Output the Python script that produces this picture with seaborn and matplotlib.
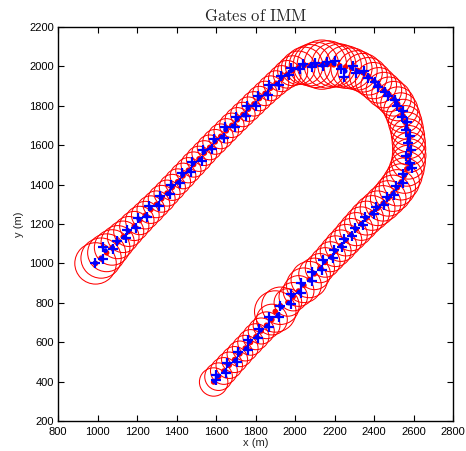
import matplotlib
matplotlib.use("Agg")
import matplotlib.pyplot as plt
from matplotlib.patches import Circle
import seaborn as sns

# predicted positions (gate centres) and gate radii (m)
pred_x = [990, 1018, 1046, 1074, 1102, 1130, 1158, 1186, 1214, 1242, 1270, 1298, 1325,
          1352, 1379, 1406, 1433, 1460, 1487, 1514, 1541, 1568, 1596, 1624, 1652, 1680,
          1708, 1736, 1764, 1792, 1820, 1848, 1876, 1904, 1932, 1960, 1988, 2016, 2046,
          2076, 2106, 2136, 2166, 2196, 2226,
          2256, 2286, 2316, 2344, 2372, 2398, 2424, 2450, 2476, 2500, 2520, 2536, 2548,
          2558, 2566, 2572, 2576, 2578, 2578, 2574, 2566, 2554, 2538, 2518, 2496, 2472,
          2446, 2418, 2390, 2362, 2336, 2310, 2284, 2258, 2232, 2206,
          2180, 2153, 2126, 2099, 2072, 2045, 2018, 1991, 1964, 1926, 1900, 1883, 1856,
          1829, 1802, 1775, 1748, 1721, 1694, 1667, 1640, 1613, 1588]
pred_y = [1000, 1027, 1054, 1081, 1108, 1135, 1162, 1190, 1218, 1245, 1273, 1300, 1328,
          1357, 1386, 1415, 1444, 1473, 1502, 1531, 1560, 1589, 1617, 1645, 1673, 1701,
          1729, 1756, 1783, 1810, 1837, 1863, 1889, 1914, 1938, 1960, 1978, 1993, 2003,
          2006, 2008, 2009, 2010, 2008, 2004,
          1997, 1990, 1980, 1968, 1950, 1928, 1904, 1880, 1858, 1836, 1810, 1780, 1748,
          1716, 1684, 1650, 1616, 1582, 1548, 1514, 1480, 1446, 1414, 1384, 1356, 1330,
          1305, 1280, 1256, 1230, 1202, 1174, 1146, 1118, 1090, 1062,
          1034, 1005, 976, 947, 918, 889, 860, 831, 802, 785, 756, 715, 686,
          657, 628, 599, 570, 541, 512, 483, 454, 425, 398]
gate_r = [105, 102, 96, 90, 84, 80, 76, 74, 72, 70, 70, 68, 68,
          66, 66, 65, 65, 64, 64, 64, 63, 63, 63, 63, 62, 62,
          62, 62, 62, 62, 62, 62, 63, 64, 66, 70, 76, 85, 95,
          105, 115, 125, 120, 112, 110,
          108, 104, 100, 98, 95, 92, 90, 90, 88, 88, 86, 86, 85,
          85, 84, 84, 84, 84, 85, 86, 88, 90, 92, 92, 92, 90,
          90, 88, 88, 86, 85, 84, 82, 80, 80, 78,
          76, 75, 74, 80, 92, 88, 78, 72, 70, 95, 105, 78, 68,
          66, 66, 65, 65, 65, 66, 67, 68, 70, 72]

# measurements
meas_x = [985, 1026, 1030, 1080, 1098, 1142, 1150, 1195, 1205, 1252, 1262, 1310, 1318,
          1365, 1372, 1418, 1428, 1472, 1480, 1528, 1535, 1582, 1590, 1640, 1645, 1695,
          1702, 1750, 1758, 1805, 1814, 1862, 1870, 1918, 1928, 1972, 1982, 2025, 2040,
          2085, 2100, 2142, 2160, 2200, 2232,
          2250, 2292, 2310, 2350, 2368, 2405, 2418, 2458, 2470, 2508, 2515, 2545, 2540,
          2566, 2560, 2580, 2570, 2585, 2560, 2582, 2590, 2548, 2545, 2512, 2502, 2465,
          2452, 2412, 2398, 2355, 2342, 2302, 2290, 2250, 2238, 2198,
          2192, 2140, 2135, 2088, 2085, 2030, 2028, 1980, 1978, 1925, 1920, 1870, 1866,
          1818, 1815, 1762, 1760, 1710, 1705, 1655, 1652, 1602, 1598]
meas_y = [1004, 1022, 1082, 1075, 1115, 1128, 1170, 1178, 1230, 1236, 1290, 1292, 1340,
          1350, 1398, 1406, 1458, 1466, 1515, 1522, 1575, 1580, 1632, 1636, 1690, 1692,
          1744, 1748, 1798, 1800, 1852, 1856, 1904, 1905, 1952, 1955, 1990, 1985, 2012,
          1998, 2016, 2002, 2022, 2025, 1985,
          1945, 2002, 1968, 1975, 1940, 1920, 1898, 1872, 1850, 1830, 1800, 1772, 1742,
          1720, 1678, 1645, 1610, 1576, 1545, 1508, 1484, 1452, 1408, 1392, 1348, 1336,
          1298, 1288, 1250, 1238, 1196, 1180, 1140, 1124, 1084, 1070,
          1025, 1018, 965, 958, 910, 902, 848, 845, 795, 785, 730, 726, 676,
          668, 620, 612, 562, 552, 500, 494, 446, 436, 408]

# filtered estimates
est_x = [988, 1021, 1040, 1076, 1100, 1135, 1155, 1190, 1210, 1246, 1267, 1303, 1322,
         1357, 1376, 1411, 1431, 1465, 1484, 1520, 1539, 1574, 1594, 1630, 1649, 1686,
         1706, 1742, 1762, 1797, 1818, 1854, 1874, 1910, 1930, 1965, 1986, 2020, 2044,
         2080, 2104, 2138, 2164, 2198, 2228,
         2254, 2288, 2314, 2346, 2370, 2401, 2422, 2453, 2474, 2503, 2518, 2540, 2545,
         2561, 2564, 2575, 2574, 2581, 2571, 2577, 2575, 2552, 2541, 2516, 2498, 2469,
         2448, 2416, 2393, 2359, 2338, 2307, 2286, 2255, 2234, 2203,
         2185, 2148, 2130, 2095, 2077, 2039, 2022, 1987, 1970, 1932, 1914, 1878, 1860,
         1825, 1807, 1770, 1753, 1717, 1698, 1662, 1645, 1609, 1592]
est_y = [1002, 1025, 1065, 1079, 1111, 1132, 1165, 1185, 1223, 1241, 1280, 1297, 1333,
         1354, 1391, 1411, 1450, 1470, 1507, 1527, 1566, 1585, 1623, 1641, 1680, 1697,
         1735, 1753, 1789, 1806, 1843, 1860, 1895, 1910, 1944, 1958, 1983, 1990, 2007,
         2003, 2011, 2006, 2015, 2015, 1996,
         1976, 1995, 1975, 1971, 1946, 1925, 1902, 1877, 1855, 1834, 1806, 1777, 1746,
         1718, 1682, 1648, 1614, 1580, 1547, 1512, 1482, 1448, 1412, 1387, 1353, 1332,
         1302, 1283, 1254, 1233, 1200, 1176, 1144, 1120, 1088, 1065,
         1030, 1010, 972, 951, 915, 894, 855, 837, 799, 778, 738, 719, 682,
         661, 625, 604, 567, 545, 507, 487, 451, 429, 402]

x_ticks = list(range(800, 2801, 200))
y_ticks = list(range(200, 2201, 200))

sns.set_style("white")
plt.rcParams['font.family'] = ['Liberation Sans', 'DejaVu Sans']
plt.rcParams['mathtext.fontset'] = 'cm'

fig = plt.figure(figsize=(4.66, 4.51), dpi=100)
ax = fig.add_axes([0.1245, 0.0665, 0.8476, 0.8736])

for cx, cy, r in zip(pred_x, pred_y, gate_r):
    ax.add_patch(Circle((cx, cy), r, fill=False, edgecolor='red', lw=0.75, zorder=2))

sns.scatterplot(x=pred_x, y=pred_y, ax=ax, color='red', s=16, edgecolor='none', zorder=3)
sns.scatterplot(x=meas_x, y=meas_y, ax=ax, marker='+', color='blue', s=45,
                linewidth=1.6, zorder=4)
sns.scatterplot(x=est_x, y=est_y, ax=ax, color='blue', s=12, edgecolor='none', zorder=5)

ax.set_xlim(800, 2800)
ax.set_ylim(200, 2200)
ax.set_xticks(x_ticks)
ax.set_yticks(y_ticks)
ax.tick_params(direction='in', top=True, right=True, bottom=True, left=True,
               length=4, width=0.8, labelsize=8, colors='black')
ax.tick_params(axis='x', pad=4)
ax.tick_params(axis='y', pad=3)
for s in ax.spines.values():
    s.set_visible(True)
    s.set_linewidth(1.0)
    s.set_color('black')
ax.set_title(r'$\mathrm{Gates\ of\ IMM}$', fontsize=12, pad=4)
ax.set_xlabel('x (m)', fontsize=8, labelpad=1)
ax.set_ylabel('y (m)', fontsize=8, labelpad=4)
fig.savefig('out.png', dpi=100)
